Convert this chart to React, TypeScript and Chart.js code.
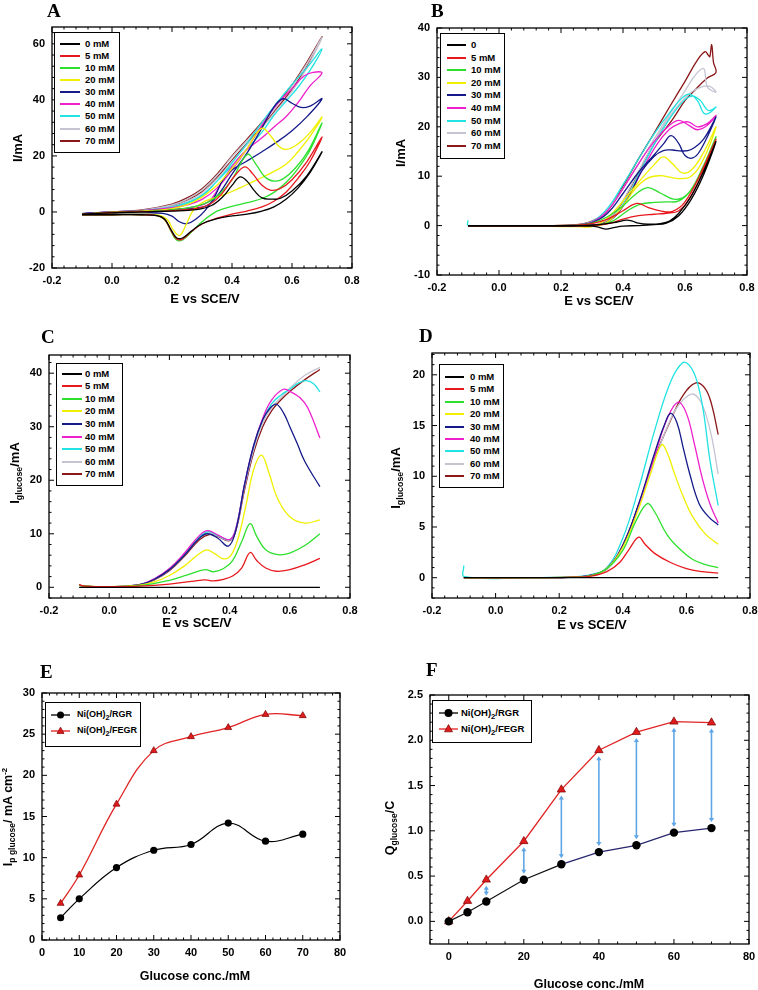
import React, { useEffect, useRef } from 'react';
import { Chart, registerables } from 'chart.js';
Chart.register(...registerables);

type Pt = [number, number];

const SANS = '"Liberation Sans", Arial, Helvetica, sans-serif';
const SERIF = '"Liberation Serif", "Times New Roman", serif';

// ---------------- shared series info (panels A-D) ----------------
const concNames = ['0 mM', '5 mM', '10 mM', '20 mM', '30 mM', '40 mM', '50 mM', '60 mM', '70 mM'];
const concNamesB = ['0', '5 mM', '10 mM', '20 mM', '30 mM', '40 mM', '50 mM', '60 mM', '70 mM'];
const concColors = ['#000000', '#e8191e', '#2ee02e', '#f0f000', '#141a88', '#ee20cc', '#22e2e2', '#c4c4d2', '#8a1818'];

// ---------------- Panel A: CV curves (forward then reverse) ----------------
const A_0mM: Pt[] = [[-0.1, -0.8], [0, -0.3], [0.1, 0], [0.2, 0.3], [0.28, 0.8], [0.33, 2.2], [0.37, 5.5], [0.4, 9.5], [0.427, 12.5], [0.45, 11], [0.475, 7.5], [0.5, 5], [0.53, 4.6], [0.56, 4.8], [0.6, 7.5], [0.65, 13], [0.7, 21.5],
  [0.66, 14], [0.62, 8.5], [0.58, 4.5], [0.54, 1.8], [0.5, 0.3], [0.45, -0.8], [0.4, -1.4], [0.35, -2.4], [0.3, -4.2], [0.265, -6.8], [0.235, -9.3], [0.215, -9.2], [0.195, -6], [0.175, -2.5], [0.15, -1.3], [0.1, -1], [0, -1], [-0.1, -1]];
const A_5mM: Pt[] = [[-0.1, -0.8], [0, -0.2], [0.1, 0.1], [0.2, 0.5], [0.28, 1.2], [0.33, 3], [0.37, 7], [0.41, 13], [0.443, 16.1], [0.47, 13.5], [0.5, 9.5], [0.527, 7.8], [0.56, 8.3], [0.6, 11.5], [0.65, 18], [0.7, 26.8],
  [0.66, 18], [0.62, 12], [0.58, 7], [0.54, 3.8], [0.5, 1.8], [0.45, 0.3], [0.4, -0.8], [0.35, -2.2], [0.3, -4.3], [0.265, -7], [0.235, -9.7], [0.215, -9.6], [0.195, -6.3], [0.175, -2.6], [0.15, -1.3], [0.1, -1], [0, -1], [-0.1, -1]];
const A_10mM: Pt[] = [[-0.1, -0.8], [0, -0.2], [0.1, 0.1], [0.2, 0.7], [0.27, 1.8], [0.32, 3.5], [0.36, 6.5], [0.4, 11.5], [0.451, 20.5], [0.48, 17], [0.51, 12.5], [0.54, 11], [0.57, 11.8], [0.61, 15.5], [0.655, 22], [0.7, 31.8],
  [0.66, 22], [0.62, 15.5], [0.58, 10.5], [0.54, 7], [0.5, 4.8], [0.45, 3.3], [0.4, 2], [0.35, 0.3], [0.3, -3.5], [0.265, -7.2], [0.235, -10], [0.215, -10], [0.195, -6.5], [0.175, -2.7], [0.15, -1.3], [0.1, -1], [0, -1], [-0.1, -1]];
const A_20mM: Pt[] = [[-0.1, -0.8], [0, -0.1], [0.1, 0.3], [0.2, 1.2], [0.25, 2.6], [0.3, 5.3], [0.35, 9.5], [0.4, 15.5], [0.45, 22.5], [0.499, 29.8], [0.53, 27], [0.555, 23.5], [0.58, 22.3], [0.62, 24.3], [0.66, 28.3], [0.7, 33.9],
  [0.66, 27], [0.62, 21.5], [0.58, 17], [0.54, 14.5], [0.5, 12.3], [0.45, 9.8], [0.4, 7.3], [0.35, 5.3], [0.3, 3.3], [0.27, 0.5], [0.245, -5], [0.225, -8.4], [0.205, -6.5], [0.185, -2.8], [0.16, -1.2], [0.1, -0.9], [0, -0.9], [-0.1, -0.9]];
const A_30mM: Pt[] = [[-0.1, -0.6], [0, 0], [0.1, 0.4], [0.2, 0.9], [0.28, 1.4], [0.32, 2.5], [0.36, 7], [0.4, 13.5], [0.45, 21], [0.5, 30], [0.54, 37.5], [0.57, 40.4], [0.6, 38.8], [0.63, 37.3], [0.66, 37.8], [0.7, 40.4],
  [0.65, 34], [0.6, 29], [0.55, 25], [0.5, 21.5], [0.45, 18.2], [0.4, 15], [0.37, 11.5], [0.34, 5], [0.31, 0.5], [0.28, -2.5], [0.25, -4.2], [0.225, -3.5], [0.2, -1.5], [0.17, -0.5], [0.1, -0.3], [0, -0.4], [-0.1, -0.6]];
const A_40mM: Pt[] = [[-0.1, -0.6], [0, 0], [0.1, 0.5], [0.2, 1.5], [0.25, 2.5], [0.3, 4.5], [0.35, 8.5], [0.4, 15], [0.45, 22.5], [0.5, 31], [0.55, 38.5], [0.6, 44], [0.64, 48.5], [0.67, 49.8], [0.7, 49.6],
  [0.66, 45], [0.62, 39], [0.58, 34], [0.54, 30.3], [0.5, 26.5], [0.45, 22.3], [0.416, 18.5], [0.38, 13], [0.35, 7.5], [0.32, 3.5], [0.28, 2], [0.22, 1], [0.1, 0.2], [0, -0.3], [-0.1, -0.6]];
const A_50mM: Pt[] = [[-0.1, -0.6], [0, 0], [0.1, 0.5], [0.2, 1.8], [0.25, 3.3], [0.3, 6], [0.35, 11], [0.4, 17.5], [0.45, 24.5], [0.5, 32], [0.55, 39], [0.6, 45.5], [0.65, 51.5], [0.7, 58.2],
  [0.66, 50.5], [0.62, 44.5], [0.58, 39.5], [0.54, 34.5], [0.5, 28.5], [0.45, 22.5], [0.4, 16.5], [0.35, 11], [0.3, 5.5], [0.25, 2.8], [0.2, 1.3], [0.1, 0.3], [0, -0.3], [-0.1, -0.6]];
const A_60mM: Pt[] = [[-0.1, -0.7], [0, 0], [0.1, 0.6], [0.2, 2.5], [0.25, 4.5], [0.3, 7.8], [0.35, 13], [0.4, 19.7], [0.45, 25.5], [0.5, 31.5], [0.55, 38], [0.6, 44.8], [0.65, 53], [0.7, 62.3],
  [0.65, 51.5], [0.6, 43], [0.55, 36.5], [0.5, 30], [0.45, 24], [0.4, 18], [0.35, 11.8], [0.3, 6.8], [0.25, 3.8], [0.2, 2], [0.1, 0.5], [0, -0.2], [-0.1, -0.7]];
const A_70mM: Pt[] = [[-0.1, -0.7], [0, 0], [0.1, 0.7], [0.2, 2.8], [0.25, 5], [0.3, 8.3], [0.35, 13.5], [0.4, 20], [0.45, 26], [0.5, 32], [0.55, 38.5], [0.6, 45.3], [0.65, 53.5], [0.7, 62.5],
  [0.65, 52], [0.6, 43.8], [0.55, 37], [0.5, 30.5], [0.45, 24.5], [0.4, 18.5], [0.35, 12.3], [0.3, 7.2], [0.25, 4.2], [0.2, 2.2], [0.1, 0.5], [0, -0.2], [-0.1, -0.7]];
const A_series = [A_0mM, A_5mM, A_10mM, A_20mM, A_30mM, A_40mM, A_50mM, A_60mM, A_70mM];

// ---------------- Panel B ----------------
const B_0mM: Pt[] = [[-0.1, 0], [0.1, 0], [0.25, 0], [0.32, 0.2], [0.37, 0.6], [0.4, 1], [0.413, 1.1], [0.43, 0.9], [0.45, 0.5], [0.48, 0.3], [0.52, 0.4], [0.55, 0.9], [0.58, 2.5], [0.62, 6], [0.66, 11], [0.7, 17],
  [0.66, 10.3], [0.62, 5.3], [0.58, 2], [0.54, 0.5], [0.5, 0.2], [0.45, 0], [0.4, -0.1], [0.37, -0.4], [0.345, -0.7], [0.325, -0.4], [0.3, -0.1], [0.2, -0.1], [0, -0.1], [-0.1, -0.1]];
const B_5mM: Pt[] = [[-0.1, 0], [0.1, 0], [0.25, 0.1], [0.3, 0.4], [0.35, 1.3], [0.4, 3], [0.445, 4.5], [0.48, 3.7], [0.52, 3], [0.56, 2.9], [0.6, 4.8], [0.65, 10.5], [0.7, 17.5],
  [0.66, 11.2], [0.62, 6], [0.58, 3], [0.54, 2.5], [0.5, 2.3], [0.45, 2], [0.4, 1.3], [0.36, 0.5], [0.32, 0.1], [0.25, -0.1], [0.1, -0.1], [-0.1, -0.1]];
const B_10mM: Pt[] = [[-0.1, 0], [0.1, 0], [0.25, 0.1], [0.3, 0.5], [0.35, 1.8], [0.4, 4], [0.44, 6.3], [0.48, 7.7], [0.52, 6.6], [0.57, 5.3], [0.61, 6.5], [0.655, 11.5], [0.7, 18],
  [0.66, 11.8], [0.62, 7.2], [0.58, 5], [0.54, 4.8], [0.5, 4.7], [0.45, 4.2], [0.41, 2.8], [0.37, 1], [0.33, 0.2], [0.25, -0.1], [0.1, -0.1], [-0.1, -0.1]];
const B_20mM: Pt[] = [[-0.1, -0.1], [0.1, -0.1], [0.25, -0.2], [0.3, -0.2], [0.34, 1], [0.38, 3.5], [0.42, 6.5], [0.46, 9.5], [0.5, 12.3], [0.53, 13.9], [0.56, 12.5], [0.59, 10.7], [0.62, 11.2], [0.66, 14.8], [0.7, 20],
  [0.66, 13.5], [0.62, 10], [0.58, 9.5], [0.55, 9.8], [0.52, 10.1], [0.48, 9.6], [0.44, 7.5], [0.4, 4], [0.36, 1.2], [0.32, 0], [0.25, -0.2], [0.1, -0.1], [-0.1, -0.1]];
const B_30mM: Pt[] = [[-0.1, 0], [0.1, 0], [0.25, 0.1], [0.3, 0.6], [0.35, 2.5], [0.4, 6.5], [0.45, 10.8], [0.5, 14.3], [0.53, 16.5], [0.555, 18.2], [0.58, 16.6], [0.6, 14.2], [0.625, 13.7], [0.65, 15.3], [0.7, 22],
  [0.66, 17.5], [0.62, 15.4], [0.59, 15.1], [0.56, 15.3], [0.53, 15.2], [0.5, 14], [0.46, 11], [0.42, 6], [0.38, 2.3], [0.34, 0.5], [0.28, 0], [0.1, 0], [-0.1, 0]];
const B_40mM: Pt[] = [[-0.1, 0], [0.1, 0], [0.25, 0.1], [0.3, 0.7], [0.35, 3], [0.4, 7.5], [0.45, 12.5], [0.5, 17], [0.55, 20.3], [0.58, 21.3], [0.61, 20.4], [0.64, 19.4], [0.67, 20.2], [0.7, 22.3],
  [0.67, 20.6], [0.64, 20], [0.61, 21], [0.58, 20.6], [0.55, 19.5], [0.51, 16.5], [0.46, 11], [0.42, 6], [0.38, 2.3], [0.34, 0.5], [0.28, 0], [0.1, 0], [-0.1, 0]];
const B_50mM: Pt[] = [[-0.1, 1.1], [-0.099, 0.05], [0.1, 0], [0.25, 0.1], [0.3, 0.8], [0.35, 3.5], [0.4, 8.3], [0.45, 13.5], [0.5, 18.5], [0.55, 22.8], [0.59, 25.8], [0.615, 26.6], [0.64, 25.3], [0.665, 22.6], [0.7, 24],
  [0.675, 23.3], [0.65, 25.3], [0.625, 26.2], [0.6, 25.5], [0.56, 22.5], [0.51, 17.5], [0.46, 11.5], [0.42, 6.5], [0.38, 2.5], [0.34, 0.5], [0.28, 0], [0.1, 0], [-0.1, 0]];
const B_60mM: Pt[] = [[-0.1, 0], [0.1, 0], [0.25, 0.1], [0.3, 0.8], [0.35, 3.2], [0.4, 7.5], [0.45, 12.5], [0.5, 17.5], [0.55, 22.5], [0.6, 27.3], [0.635, 30.6], [0.66, 31.8], [0.668, 29], [0.675, 27.8], [0.7, 27],
  [0.68, 28.2], [0.65, 28], [0.62, 27], [0.58, 24.5], [0.54, 21], [0.5, 16.8], [0.45, 11], [0.41, 6.2], [0.37, 2.4], [0.33, 0.5], [0.28, 0], [0.1, 0], [-0.1, 0]];
const B_70mM: Pt[] = [[-0.1, 0], [0.1, 0], [0.25, 0.2], [0.3, 0.9], [0.35, 3], [0.4, 8], [0.45, 13.5], [0.5, 18.7], [0.55, 24], [0.6, 29.2], [0.64, 33.5], [0.665, 35.2], [0.675, 34.5], [0.68, 34.2], [0.686, 36.6], [0.692, 33], [0.7, 31],
  [0.67, 29.8], [0.63, 27.3], [0.6, 25.3], [0.56, 21.5], [0.5, 16.5], [0.45, 10.8], [0.41, 6], [0.37, 2.3], [0.33, 0.5], [0.28, 0], [0.1, 0], [-0.1, 0]];
const B_series = [B_0mM, B_5mM, B_10mM, B_20mM, B_30mM, B_40mM, B_50mM, B_60mM, B_70mM];

// ---------------- Panel C ----------------
const C_0mM: Pt[] = [[-0.1, 0], [0.2, 0], [0.45, 0], [0.7, 0]];
const C_5mM: Pt[] = [[-0.1, 0.5], [-0.08, 0.2], [0, 0.1], [0.1, 0.2], [0.2, 0.6], [0.3, 1.3], [0.32, 1.4], [0.345, 1.2], [0.38, 1.5], [0.41, 2.1], [0.44, 3.6], [0.468, 6.5], [0.49, 5], [0.52, 3.6], [0.555, 3], [0.6, 3.3], [0.65, 4.2], [0.7, 5.4]];
const C_10mM: Pt[] = [[-0.1, 0.4], [-0.08, 0.2], [0, 0.1], [0.1, 0.3], [0.2, 1.3], [0.26, 2.3], [0.318, 3.3], [0.347, 2.9], [0.38, 3.5], [0.41, 5], [0.44, 8.5], [0.468, 11.9], [0.49, 9.5], [0.52, 7], [0.56, 6.1], [0.6, 6.4], [0.65, 7.8], [0.7, 10]];
const C_20mM: Pt[] = [[-0.1, 0.4], [-0.08, 0.2], [0, 0.1], [0.1, 0.4], [0.15, 1], [0.2, 2.2], [0.25, 4], [0.3, 6.3], [0.324, 7], [0.35, 6.3], [0.38, 5.3], [0.405, 6], [0.43, 9.5], [0.455, 15.5], [0.48, 22], [0.506, 24.7], [0.53, 21.5], [0.56, 16.5], [0.6, 13.2], [0.65, 12], [0.7, 12.6]];
const C_30mM: Pt[] = [[-0.1, 0.4], [-0.08, 0.2], [0, 0.1], [0.1, 0.5], [0.15, 1.5], [0.2, 3.3], [0.25, 6], [0.3, 9.2], [0.327, 10], [0.36, 9.2], [0.396, 7.7], [0.42, 10.5], [0.45, 19.3], [0.48, 26.5], [0.51, 31.3], [0.535, 33.5], [0.556, 34.2], [0.58, 32.5], [0.6, 30], [0.625, 26.8], [0.65, 23.5], [0.7, 18.8]];
const C_40mM: Pt[] = [[-0.1, 0.4], [-0.08, 0.2], [0, 0.1], [0.1, 0.5], [0.15, 1.6], [0.2, 3.5], [0.25, 6.4], [0.3, 9.7], [0.327, 10.6], [0.36, 9.8], [0.4, 8.9], [0.42, 10.8], [0.45, 19.3], [0.48, 26.5], [0.51, 31.6], [0.54, 35], [0.578, 37], [0.6, 36.6], [0.634, 35.4], [0.66, 33.5], [0.7, 27.9]];
const C_50mM: Pt[] = [[-0.1, 0.4], [-0.08, 0.2], [0, 0.1], [0.1, 0.5], [0.15, 1.5], [0.2, 3.4], [0.25, 6.2], [0.3, 9.4], [0.33, 10.4], [0.36, 9.7], [0.4, 8.9], [0.42, 10.8], [0.45, 19.2], [0.48, 26.3], [0.51, 31.3], [0.54, 34.3], [0.57, 35.9], [0.6, 37], [0.63, 38.2], [0.655, 38.6], [0.68, 38], [0.7, 36.5]];
const C_60mM: Pt[] = [[-0.1, 0.4], [-0.08, 0.2], [0, 0.1], [0.1, 0.5], [0.15, 1.5], [0.2, 3.3], [0.25, 6], [0.3, 9.2], [0.33, 10.2], [0.36, 9.6], [0.4, 8.8], [0.42, 10.6], [0.45, 18.8], [0.48, 25.8], [0.51, 30.7], [0.54, 33.6], [0.57, 35.4], [0.6, 37.2], [0.65, 39.6], [0.7, 41.1]];
const C_70mM: Pt[] = [[-0.1, 0.4], [-0.08, 0.2], [0, 0.1], [0.1, 0.4], [0.15, 1.4], [0.2, 3.1], [0.25, 5.8], [0.3, 8.9], [0.335, 9.9], [0.36, 9.5], [0.4, 8.7], [0.42, 10.4], [0.45, 18.3], [0.48, 25.2], [0.51, 30], [0.54, 33], [0.57, 35], [0.6, 36.6], [0.65, 38.8], [0.7, 40.7]];
const C_series = [C_0mM, C_5mM, C_10mM, C_20mM, C_30mM, C_40mM, C_50mM, C_60mM, C_70mM];

// ---------------- Panel D ----------------
const D_0mM: Pt[] = [[-0.1, 0], [0.2, 0], [0.45, 0], [0.7, 0]];
const D_5mM: Pt[] = [[-0.1, 0], [0.1, 0], [0.25, 0.05], [0.3, 0.15], [0.35, 0.6], [0.39, 1.5], [0.42, 2.8], [0.45, 4.0], [0.47, 3.3], [0.5, 2.4], [0.55, 1.5], [0.6, 0.9], [0.65, 0.6], [0.7, 0.45]];
const D_10mM: Pt[] = [[-0.1, 0], [0.1, 0], [0.25, 0.05], [0.3, 0.2], [0.35, 0.9], [0.4, 2.7], [0.44, 5.5], [0.477, 7.3], [0.5, 6.5], [0.54, 4.2], [0.58, 2.8], [0.62, 1.8], [0.66, 1.3], [0.7, 1.0]];
const D_20mM: Pt[] = [[-0.1, 0], [0.1, 0], [0.25, 0.05], [0.3, 0.2], [0.35, 0.9], [0.4, 3], [0.45, 6.8], [0.49, 10.5], [0.522, 13.1], [0.54, 12.3], [0.56, 10.5], [0.59, 8], [0.62, 6], [0.66, 4.3], [0.7, 3.3]];
const D_30mM: Pt[] = [[-0.1, 0], [0.1, 0], [0.25, 0.05], [0.3, 0.25], [0.35, 0.9], [0.4, 3.2], [0.45, 7.3], [0.5, 12.3], [0.53, 15], [0.55, 16.2], [0.57, 15.3], [0.59, 12.8], [0.61, 10.3], [0.64, 7.3], [0.67, 6], [0.7, 5.2]];
const D_40mM: Pt[] = [[-0.1, 0], [0.1, 0], [0.25, 0.05], [0.3, 0.25], [0.35, 0.9], [0.4, 3.2], [0.45, 7.2], [0.5, 12], [0.54, 15.7], [0.574, 17.3], [0.6, 16.2], [0.625, 13.2], [0.65, 9.8], [0.675, 7.2], [0.7, 5.4]];
const D_50mM: Pt[] = [[-0.1, 1.2], [-0.098, 0.1], [0.1, 0], [0.25, 0.1], [0.3, 0.3], [0.35, 1], [0.4, 3.9], [0.45, 8.8], [0.5, 14.5], [0.55, 19.3], [0.588, 21.2], [0.61, 20.9], [0.632, 19.5], [0.653, 16.5], [0.674, 11.6], [0.7, 7.1]];
const D_60mM: Pt[] = [[-0.1, 0], [0.1, 0], [0.25, 0.05], [0.3, 0.25], [0.35, 0.8], [0.4, 3.1], [0.45, 7], [0.5, 11.6], [0.55, 15.6], [0.58, 17.2], [0.616, 18.1], [0.64, 17.6], [0.66, 16.2], [0.68, 13.8], [0.7, 10.2]];
const D_70mM: Pt[] = [[-0.1, 0], [0.1, 0], [0.25, 0.05], [0.3, 0.25], [0.35, 0.9], [0.4, 3.2], [0.45, 7.2], [0.5, 11.8], [0.55, 15.5], [0.59, 18], [0.63, 19.2], [0.66, 18.6], [0.68, 17], [0.7, 14.1]];
const D_series = [D_0mM, D_5mM, D_10mM, D_20mM, D_30mM, D_40mM, D_50mM, D_60mM, D_70mM];

// ---------------- Panel E ----------------
const E_conc = [5, 10, 20, 30, 40, 50, 60, 70];
const E_RGR = [2.7, 5.0, 8.8, 10.9, 11.6, 14.2, 12.0, 12.85];
const E_FEGR = [4.45, 7.9, 16.5, 23.0, 24.7, 25.8, 27.4, 27.25];

// ---------------- Panel F ----------------
const F_conc = [0, 5, 10, 20, 30, 40, 50, 60, 70];
const F_RGR = [0, 0.1, 0.22, 0.46, 0.63, 0.765, 0.84, 0.98, 1.03];
const F_FEGR = [0, 0.225, 0.46, 0.885, 1.455, 1.89, 2.09, 2.205, 2.195];

// ---------------- tick values ----------------
const voltTicks = [-0.2, 0, 0.2, 0.4, 0.6, 0.8];
const A_yTicks = [-20, 0, 20, 40, 60];
const B_yTicks = [-10, 0, 10, 20, 30, 40];
const C_yTicks = [0, 10, 20, 30, 40];
const D_yTicks = [0, 5, 10, 15, 20];
const E_xTicks = [0, 10, 20, 30, 40, 50, 60, 70, 80];
const E_yTicks = [0, 5, 10, 15, 20, 25, 30];
const F_xTicks = [0, 20, 40, 60, 80];
const F_yTicks = [0, 0.5, 1.0, 1.5, 2.0, 2.5];

const seriesNames = ['Ni(OH)2/RGR', 'Ni(OH)2/FEGR'];

// ---------------- plugins ----------------
const frameTicksPlugin = {
  id: 'frameTicks',
  afterDraw(chart: any, _args: any, opts: any) {
    const { ctx, chartArea: a, scales } = chart;
    const xs = scales.x, ys = scales.y;
    ctx.save();
    ctx.strokeStyle = '#000';
    const gen = (ticks: number[], minor: number, min: number, max: number) => {
      const step = ticks[1] - ticks[0];
      const ms = step / minor;
      const out: { v: number; major: boolean }[] = [];
      const eps = ms * 1e-3;
      let v = ticks[0];
      while (v - ms >= min - eps) v -= ms;
      for (; v <= max + eps; v += ms) {
        const r = (v - ticks[0]) / step;
        out.push({ v, major: Math.abs(r - Math.round(r)) < 1e-4 });
      }
      return out;
    };
    ctx.lineWidth = 1;
    ctx.beginPath();
    for (const t of gen(opts.xTicks, opts.xMinor, xs.min, xs.max)) {
      const p = xs.getPixelForValue(t.v);
      const len = t.major ? 5 : 2.5;
      ctx.moveTo(p, a.bottom); ctx.lineTo(p, a.bottom - len);
      ctx.moveTo(p, a.top); ctx.lineTo(p, a.top + len);
    }
    for (const t of gen(opts.yTicks, opts.yMinor, ys.min, ys.max)) {
      const p = ys.getPixelForValue(t.v);
      const len = t.major ? 5 : 2.5;
      ctx.moveTo(a.left, p); ctx.lineTo(a.left + len, p);
      ctx.moveTo(a.right, p); ctx.lineTo(a.right - len, p);
    }
    ctx.stroke();
    ctx.lineWidth = 1.3;
    ctx.strokeRect(a.left, a.top, a.right - a.left, a.bottom - a.top);
    ctx.restore();
  },
};

const arrowPlugin = {
  id: 'gapArrows',
  afterDatasetsDraw(chart: any) {
    const { ctx, scales } = chart;
    const xs = scales.x, ys = scales.y;
    ctx.save();
    ctx.strokeStyle = '#5fa6e6';
    ctx.fillStyle = '#5fa6e6';
    ctx.lineWidth = 1.6;
    F_conc.forEach((c, i) => {
      if (c === 0) return;
      const x = xs.getPixelForValue(c);
      const yLow = ys.getPixelForValue(F_RGR[i]) - 6;
      const yHigh = ys.getPixelForValue(F_FEGR[i]) + 6;
      if (yLow - yHigh < 6) return;
      const h = 4, w = 2.6;
      ctx.beginPath();
      ctx.moveTo(x, yHigh + h - 1); ctx.lineTo(x, yLow - h + 1);
      ctx.stroke();
      ctx.beginPath();
      ctx.moveTo(x, yHigh); ctx.lineTo(x - w, yHigh + h); ctx.lineTo(x + w, yHigh + h); ctx.closePath();
      ctx.moveTo(x, yLow); ctx.lineTo(x - w, yLow - h); ctx.lineTo(x + w, yLow - h); ctx.closePath();
      ctx.fill();
    });
    ctx.restore();
  },
};

// ---------------- config builder ----------------
interface Rect { x: number; y: number; w: number; h: number }
interface Plot { l: number; t: number; r: number; b: number }
interface AxisSpec { min: number; max: number; ticks: number[]; minor: number; fmt: (v: number) => string }

function makeConfig(rect: Rect, plot: Plot, xa: AxisSpec, ya: AxisSpec, datasets: any[], extra: any[] = []) {
  const padTop = plot.t - rect.y;
  const padRight = rect.x + rect.w - plot.r;
  const yW = plot.l - rect.x;
  const xH = rect.y + rect.h - plot.b;
  const tickFont = { family: SANS, weight: 'bold' as const, size: 11 };
  return {
    type: 'line' as const,
    data: { datasets },
    options: {
      animation: false as const,
      responsive: false,
      devicePixelRatio: 1,
      layout: { padding: { left: 0, top: padTop, right: padRight, bottom: 0 } },
      plugins: {
        legend: { display: false },
        tooltip: { enabled: false },
        frameTicks: { xTicks: xa.ticks, yTicks: ya.ticks, xMinor: xa.minor, yMinor: ya.minor },
      },
      scales: {
        x: {
          type: 'linear' as const, position: 'bottom' as const, min: xa.min, max: xa.max,
          grid: { display: false, drawTicks: false }, border: { display: false },
          ticks: { font: tickFont, color: '#000', padding: 6, maxRotation: 0, autoSkip: false, callback: (v: any) => xa.fmt(Number(v)) },
          afterBuildTicks: (ax: any) => { ax.ticks = xa.ticks.map((v) => ({ value: v })); },
          afterFit: (ax: any) => { ax.height = xH; ax.paddingLeft = 0; ax.paddingRight = 0; },
        },
        y: {
          type: 'linear' as const, position: 'left' as const, min: ya.min, max: ya.max,
          grid: { display: false, drawTicks: false }, border: { display: false },
          ticks: { font: tickFont, color: '#000', padding: 7, autoSkip: false, callback: (v: any) => ya.fmt(Number(v)) },
          afterBuildTicks: (ax: any) => { ax.ticks = ya.ticks.map((v) => ({ value: v })); },
          afterFit: (ax: any) => { ax.width = yW; ax.paddingTop = 0; ax.paddingBottom = 0; },
        },
      },
    },
    plugins: [frameTicksPlugin, ...extra],
  };
}

const curveDatasets = (series: Pt[][]) =>
  series.map((s, i) => ({
    data: s.map(([x, y]) => ({ x, y })),
    borderColor: concColors[i],
    backgroundColor: concColors[i],
    borderWidth: 1.3,
    pointRadius: 0,
    tension: 0.4,
    fill: false,
  }));

const fmt1 = (v: number) => v.toFixed(1);
const fmt0 = (v: number) => String(Math.round(v));

// ---------------- components ----------------
function ChartCanvas({ rect, build }: { rect: Rect; build: () => any }) {
  const ref = useRef<HTMLCanvasElement>(null);
  useEffect(() => {
    const chart = new Chart(ref.current as HTMLCanvasElement, build());
    return () => chart.destroy();
  }, []);
  return (
    <canvas ref={ref} width={rect.w} height={rect.h}
      style={{ position: 'absolute', left: rect.x, top: rect.y, width: rect.w, height: rect.h }} />
  );
}

const abs = (l: number, t: number): React.CSSProperties => ({ position: 'absolute', left: l, top: t });

function Letter({ x, y, ch }: { x: number; y: number; ch: string }) {
  return <div style={{ ...abs(x, y), font: `bold 19px ${SERIF}`, lineHeight: '19px' }}>{ch}</div>;
}

function XTitle({ cx, cy, children, size = 13 }: any) {
  return (
    <div style={{ ...abs(cx, cy), transform: 'translate(-50%,-50%)', font: `bold ${size}px ${SANS}`, whiteSpace: 'nowrap', lineHeight: 1 }}>{children}</div>
  );
}
function YTitle({ cx, cy, children, size = 13 }: any) {
  return (
    <div style={{ ...abs(cx, cy), transform: 'translate(-50%,-50%) rotate(-90deg)', font: `bold ${size}px ${SANS}`, whiteSpace: 'nowrap', lineHeight: 1 }}>{children}</div>
  );
}
const Sub = ({ children, scale = 0.68 }: any) => <span style={{ fontSize: `${scale}em`, verticalAlign: '-0.35em' }}>{children}</span>;
const Sup = ({ children }: any) => <span style={{ fontSize: '0.62em', verticalAlign: '0.6em' }}>{children}</span>;

function CurveLegend({ box, y0, step, lx0, lx1, tx, names }: any) {
  return (
    <>
      <div style={{ ...abs(box[0], box[1]), width: box[2] - box[0], height: box[3] - box[1], border: '1.3px solid #000', boxSizing: 'border-box', background: '#fff' }} />
      {names.map((n: string, i: number) => {
        const y = y0 + i * step;
        return (
          <React.Fragment key={i}>
            <div style={{ ...abs(lx0, y - 1), width: lx1 - lx0, height: 2, background: concColors[i] }} />
            <div style={{ ...abs(tx, y - 5), font: `bold 9.5px ${SANS}`, lineHeight: '10px', whiteSpace: 'nowrap' }}>{n}</div>
          </React.Fragment>
        );
      })}
    </>
  );
}

function NiName({ name }: { name: string }) {
  const [a, b] = name.split('2');
  return <>{a}<Sub scale={0.8}>2</Sub>{b}</>;
}

function MarkerLegend({ box, rows, lx0, lx1, tx, big }: any) {
  const items = [
    { color: '#000', shape: 'circle', fill: '#000' },
    { color: '#e02020', shape: 'triangle', fill: '#e01b1b' },
  ];
  return (
    <>
      <div style={{ ...abs(box[0], box[1]), width: box[2] - box[0], height: box[3] - box[1], border: '1.3px solid #000', boxSizing: 'border-box', background: '#fff' }} />
      {items.map((it, i) => {
        const y = rows[i];
        const w = lx1 - lx0;
        const r = big ? 4 : 3.5;
        return (
          <React.Fragment key={i}>
            <svg width={w} height={12} style={{ ...abs(lx0, y - 6), overflow: 'visible' }}>
              <line x1={0} y1={6} x2={w} y2={6} stroke={it.color} strokeWidth={1.3} />
              {it.shape === 'circle'
                ? <circle cx={w / 2} cy={6} r={r} fill={it.fill} />
                : <polygon points={`${w / 2},${6 - r * 1.1} ${w / 2 - r},${6 + r * 0.7} ${w / 2 + r},${6 + r * 0.7}`} fill={it.fill} stroke="#7a0000" strokeWidth={0.7} />}
            </svg>
            <div style={{ ...abs(tx, y - 6), font: `bold ${big ? 9.5 : 9}px ${SANS}`, lineHeight: '11px', whiteSpace: 'nowrap' }}>
              <NiName name={seriesNames[i]} />
            </div>
          </React.Fragment>
        );
      })}
    </>
  );
}

// ---------------- panel geometry ----------------
const rectA: Rect = { x: 0, y: 0, w: 379, h: 320 };
const plotA: Plot = { l: 52, t: 27, r: 352, b: 268 };
const rectB: Rect = { x: 379, y: 0, w: 379, h: 320 };
const plotB: Plot = { l: 437, t: 28, r: 747, b: 275 };
const rectC: Rect = { x: 0, y: 320, w: 379, h: 330 };
const plotC: Plot = { l: 49, t: 355, r: 350, b: 598 };
const rectD: Rect = { x: 379, y: 320, w: 379, h: 330 };
const plotD: Plot = { l: 432, t: 353, r: 750, b: 598 };
const rectE: Rect = { x: 0, y: 650, w: 379, h: 340 };
const plotE: Plot = { l: 42, t: 693, r: 340, b: 940 };
const rectF: Rect = { x: 379, y: 650, w: 379, h: 340 };
const plotF: Plot = { l: 430, t: 695, r: 749, b: 944 };

const voltAxis: AxisSpec = { min: -0.2, max: 0.8, ticks: voltTicks, minor: 5, fmt: fmt1 };

const buildA = () => makeConfig(rectA, plotA, voltAxis, { min: -20, max: 66, ticks: A_yTicks, minor: 5, fmt: fmt0 }, curveDatasets(A_series));
const buildB = () => makeConfig(rectB, plotB, voltAxis, { min: -10, max: 40, ticks: B_yTicks, minor: 5, fmt: fmt0 }, curveDatasets(B_series));
const buildC = () => makeConfig(rectC, plotC, voltAxis, { min: -2, max: 43.4, ticks: C_yTicks, minor: 5, fmt: fmt0 }, curveDatasets(C_series));
const buildD = () => makeConfig(rectD, plotD, voltAxis, { min: -2, max: 22.15, ticks: D_yTicks, minor: 5, fmt: fmt0 }, curveDatasets(D_series));

const buildE = () => makeConfig(rectE, plotE,
  { min: 0, max: 80, ticks: E_xTicks, minor: 5, fmt: fmt0 },
  { min: 0, max: 30, ticks: E_yTicks, minor: 5, fmt: fmt0 },
  [
    {
      data: E_conc.map((x, i) => ({ x, y: E_RGR[i] })), borderColor: '#000', backgroundColor: '#000',
      borderWidth: 1.2, tension: 0.4, pointStyle: 'circle', pointRadius: 3.6, pointBorderWidth: 0, fill: false,
    },
    {
      data: E_conc.map((x, i) => ({ x, y: E_FEGR[i] })), borderColor: '#e02424', backgroundColor: '#e01b1b',
      pointBorderColor: '#7a0000', pointBorderWidth: 0.7,
      borderWidth: 1.3, tension: 0.4, pointStyle: 'triangle', pointRadius: 4, fill: false,
    },
  ]);

const buildF = () => makeConfig(rectF, plotF,
  { min: -5, max: 80, ticks: F_xTicks, minor: 4, fmt: fmt0 },
  { min: -0.25, max: 2.5, ticks: F_yTicks, minor: 5, fmt: fmt1 },
  [
    {
      data: F_conc.map((x, i) => ({ x, y: F_RGR[i] })), borderColor: '#111', backgroundColor: '#000',
      segment: { borderColor: (c: any) => (c.p0DataIndex >= 4 ? '#262670' : '#111') },
      borderWidth: 1.2, tension: 0, pointStyle: 'circle', pointRadius: 4.2, pointBorderWidth: 0, fill: false,
    },
    {
      data: F_conc.map((x, i) => ({ x, y: F_FEGR[i] })), borderColor: '#e02424', backgroundColor: '#e01b1b',
      pointBorderColor: '#7a0000', pointBorderWidth: 0.7,
      borderWidth: 1.3, tension: 0, pointStyle: 'triangle', pointRadius: 4.8, fill: false,
    },
  ], [arrowPlugin]);

export default function App() {
  return (
    <div style={{ position: 'absolute', left: 0, top: 0, width: 758, height: 990, background: '#fff', overflow: 'hidden' }}>
      <ChartCanvas rect={rectA} build={buildA} />
      <ChartCanvas rect={rectB} build={buildB} />
      <ChartCanvas rect={rectC} build={buildC} />
      <ChartCanvas rect={rectD} build={buildD} />
      <ChartCanvas rect={rectE} build={buildE} />
      <ChartCanvas rect={rectF} build={buildF} />

      <Letter x={47} y={1} ch="A" />
      <Letter x={431} y={1} ch="B" />
      <Letter x={41} y={327} ch="C" />
      <Letter x={419} y={326} ch="D" />
      <Letter x={40} y={662} ch="E" />
      <Letter x={426} y={660} ch="F" />

      <XTitle cx={205} cy={298}>E vs SCE/V</XTitle>
      <YTitle cx={17} cy={148}>I/mA</YTitle>
      <XTitle cx={599} cy={300}>E vs SCE/V</XTitle>
      <YTitle cx={400} cy={153}>I/mA</YTitle>
      <XTitle cx={197} cy={622}>E vs SCE/V</XTitle>
      <YTitle cx={16} cy={473}>I<Sub>glucose</Sub>/mA</YTitle>
      <XTitle cx={592} cy={624}>E vs SCE/V</XTitle>
      <YTitle cx={397} cy={478}>I<Sub>glucose</Sub>/mA</YTitle>
      <XTitle cx={195} cy={976} size={12.5}>Glucose conc./mM</XTitle>
      <YTitle cx={9} cy={817} size={12.5}>I<Sub>p glucose</Sub>/ mA cm<Sup>-2</Sup></YTitle>
      <XTitle cx={589} cy={984} size={12.5}>Glucose conc./mM</XTitle>
      <YTitle cx={391} cy={828} size={12.5}>Q<Sub>glucose</Sub>/C</YTitle>

      <CurveLegend box={[54, 32, 120, 153]} y0={43.5} step={12.15} lx0={60} lx1={80} tx={85} names={concNames} />
      <CurveLegend box={[440, 33, 505, 159]} y0={45} step={12.6} lx0={447} lx1={466} tx={471} names={concNamesB} />
      <CurveLegend box={[56, 363, 123, 486]} y0={373.5} step={12.6} lx0={62} lx1={82} tx={85} names={concNames} />
      <CurveLegend box={[439, 364, 504, 488]} y0={377} step={12.4} lx0={445} lx1={464} tx={470} names={concNames} />

      <MarkerLegend box={[45, 702, 141, 747]} rows={[715, 731]} lx0={51} lx1={70} tx={77} big={false} />
      <MarkerLegend box={[432, 700, 532, 743]} rows={[713.3, 729]} lx0={439} lx1={458} tx={461} big={true} />
    </div>
  );
}
